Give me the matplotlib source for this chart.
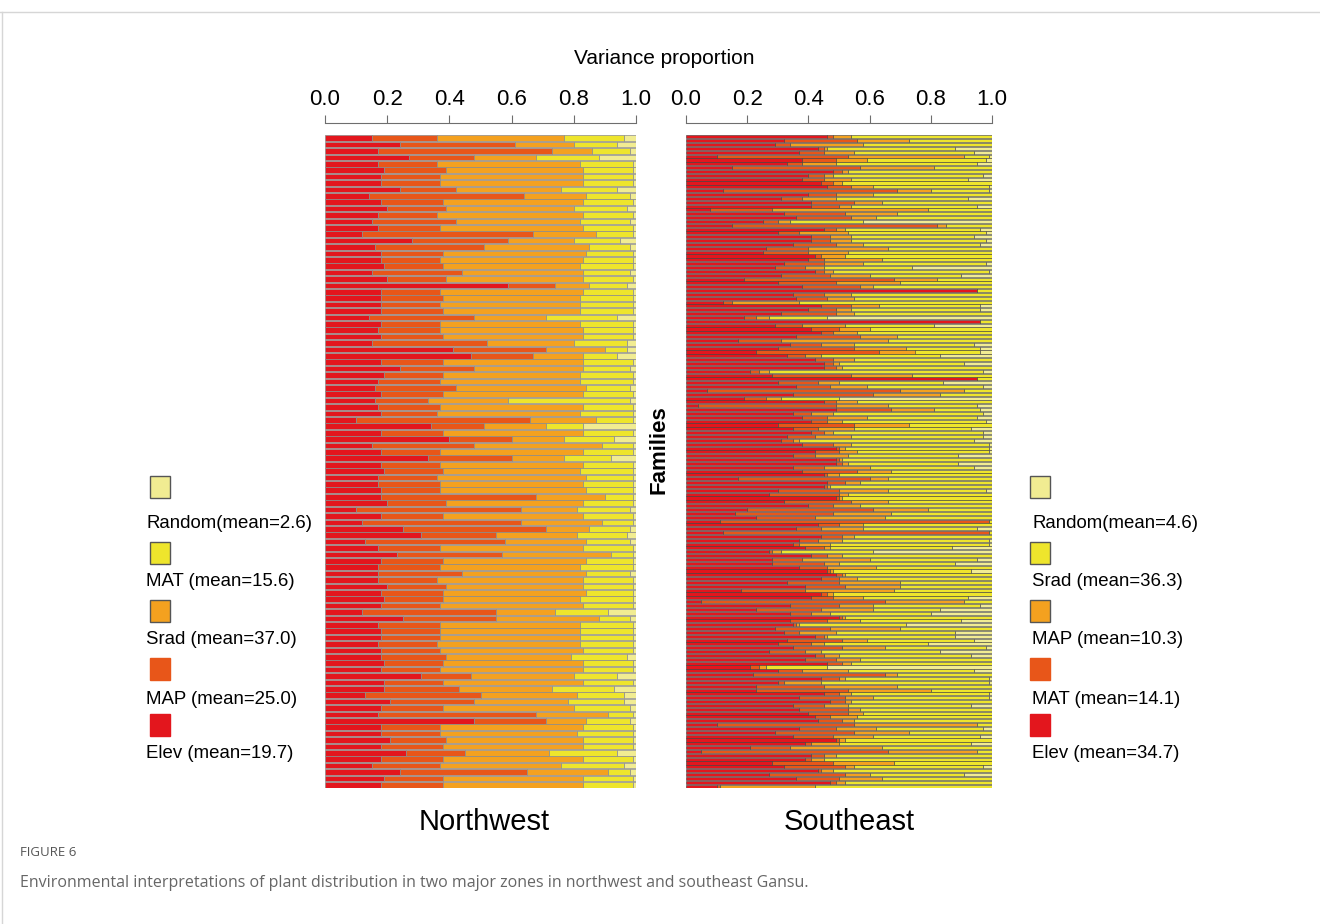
import numpy as np
import matplotlib
matplotlib.use("Agg")
import matplotlib.pyplot as plt
from matplotlib.patches import Rectangle
from matplotlib.lines import Line2D

plt.rcParams["font.family"] = ["Liberation Sans", "DejaVu Sans"]

# colours by stacking position (left segment first)
STACK_COLORS = ["#e3161d", "#e85619", "#f4a11f", "#eee52c", "#f1ec92"]

# ---- Northwest: Elev, MAP, Srad, MAT, Random (102 families, top to bottom)
nw_elev = [.15, .24, .17, .27, .17, .19, .18, .18, .24, .14,
           .18, .20, .17, .15, .17, .12, .28, .16, .18, .18,
           .19, .15, .20, .59, .18, .18, .18, .18, .14, .18,
           .17, .18, .15, .41, .47, .18, .24, .19, .17, .16,
           .18, .16, .17, .18, .10, .34, .18, .40, .15, .18,
           .33, .18, .19, .17, .17, .18, .18, .20, .10, .18,
           .12, .25, .31, .13, .17, .23, .18, .17, .17, .17,
           .20, .18, .19, .18, .12, .25, .17, .18, .18, .17,
           .18, .18, .19, .18, .31, .19, .19, .13, .21, .18,
           .17, .48, .18, .18, .21, .18, .26, .18, .15, .24,
           .19, .18]
nw_map = [.21, .37, .56, .21, .19, .20, .19, .19, .18, .50,
          .20, .19, .19, .27, .20, .55, .31, .35, .20, .19,
          .19, .29, .19, .15, .19, .20, .19, .20, .34, .19,
          .20, .20, .37, .30, .20, .20, .24, .19, .20, .26,
          .20, .17, .20, .18, .56, .17, .20, .20, .33, .19,
          .27, .19, .19, .19, .20, .19, .50, .19, .53, .20,
          .51, .46, .24, .45, .20, .34, .20, .20, .27, .19,
          .19, .20, .19, .19, .43, .30, .20, .19, .19, .19,
          .19, .21, .19, .19, .16, .19, .24, .37, .27, .20,
          .51, .23, .19, .19, .18, .20, .19, .20, .22, .41,
          .19, .20]
nw_srad = [.41, .19, .13, .20, .46, .44, .46, .46, .34, .20,
           .45, .41, .47, .40, .46, .20, .21, .34, .46, .46,
           .44, .39, .44, .11, .46, .44, .45, .44, .23, .45,
           .46, .45, .28, .19, .16, .45, .35, .44, .45, .42,
           .45, .26, .46, .46, .21, .20, .45, .17, .41, .46,
           .17, .46, .44, .48, .46, .47, .22, .44, .18, .45,
           .26, .14, .26, .26, .46, .35, .46, .45, .40, .47,
           .44, .46, .44, .46, .19, .33, .45, .45, .45, .46,
           .46, .40, .45, .46, .33, .45, .30, .31, .30, .42,
           .23, .13, .46, .44, .44, .45, .27, .45, .39, .26,
           .45, .45]
nw_mat = [.19, .14, .12, .20, .17, .16, .16, .16, .18, .14,
          .16, .17, .16, .16, .16, .12, .15, .13, .15, .16,
          .17, .15, .16, .12, .16, .17, .17, .17, .23, .17,
          .16, .16, .17, .07, .11, .16, .15, .17, .17, .14,
          .16, .39, .16, .17, .12, .12, .16, .16, .10, .16,
          .15, .16, .17, .15, .16, .15, .09, .16, .17, .16,
          .10, .13, .16, .14, .16, .07, .15, .17, .14, .16,
          .16, .15, .17, .16, .17, .10, .17, .17, .17, .17,
          .16, .18, .16, .16, .14, .16, .20, .15, .18, .18,
          .08, .14, .16, .18, .16, .16, .22, .16, .20, .07,
          .16, .16]
nw_random = [.04, .06, .02, .12, .01, .01, .01, .01, .06, .02,
             .01, .03, .01, .02, .01, .01, .05, .02, .01, .01,
             .01, .02, .01, .03, .01, .01, .01, .01, .06, .01,
             .01, .01, .03, .03, .06, .01, .02, .01, .01, .02,
             .01, .02, .01, .01, .01, .17, .01, .07, .01, .01,
             .08, .01, .01, .01, .01, .01, .01, .01, .02, .01,
             .01, .02, .03, .02, .01, .01, .01, .01, .02, .01,
             .01, .01, .01, .01, .09, .02, .01, .01, .01, .01,
             .01, .03, .01, .01, .06, .01, .07, .04, .04, .02,
             .01, .02, .01, .01, .01, .01, .06, .01, .04, .02,
             .01, .01]
nw_legend = ["Random(mean=2.6)", "MAT (mean=15.6)", "Srad (mean=37.0)",
             "MAP (mean=25.0)", "Elev (mean=19.7)"]

# ---- Southeast: Elev, MAT, MAP, Srad, Random (170 families, top to bottom)
se_elev = [.46, .32, .29, .43, .37, .10, .38, .33, .15, .48,
           .40, .38, .44, .46, .12, .40, .31, .41, .41, .08,
           .32, .36, .25, .15, .45, .30, .41, .41, .35, .26,
           .25, .42, .40, .32, .29, .42, .31, .19, .30, .38,
           .95, .35, .36, .12, .44, .40, .31, .19, .96, .29,
           .41, .44, .36, .17, .34, .30, .23, .33, .42, .45,
           .45, .21, .28, .95, .30, .36, .07, .35, .19, .45,
           .04, .49, .35, .38, .41, .30, .35, .41, .33, .31,
           .38, .49, .42, .35, .49, .49, .35, .38, .45, .17,
           .46, .45, .30, .27, .49, .32, .40, .20, .16, .23,
           .11, .43, .36, .12, .44, .37, .35, .39, .27, .41,
           .28, .28, .37, .46, .49, .44, .33, .39, .18, .44,
           .41, .05, .34, .23, .34, .50, .34, .35, .29, .32,
           .42, .33, .30, .35, .27, .42, .39, .46, .21, .30,
           .22, .44, .30, .23, .23, .45, .37, .47, .35, .37,
           .40, .42, .43, .10, .37, .29, .35, .49, .39, .21,
           .05, .41, .39, .28, .32, .43, .27, .36, .47, .10]
se_mat = [.02, .24, .05, .02, .08, .43, .11, .05, .42, .03,
          .05, .07, .04, .08, .57, .09, .07, .14, .09, .20,
          .20, .18, .05, .67, .04, .07, .06, .06, .14, .14,
          .15, .02, .05, .13, .10, .03, .16, .49, .19, .19,
          .00, .10, .10, .03, .10, .09, .18, .04, .00, .09,
          .09, .04, .21, .14, .10, .25, .40, .06, .06, .03,
          .04, .03, .26, .00, .13, .11, .63, .26, .07, .04,
          .45, .18, .06, .08, .05, .25, .08, .04, .09, .04,
          .10, .01, .08, .07, .01, .02, .10, .18, .01, .43,
          .06, .01, .20, .23, .01, .22, .08, .41, .32, .19,
          .88, .07, .08, .87, .07, .06, .02, .06, .01, .05,
          .10, .17, .09, .01, .02, .06, .17, .13, .21, .02,
          .07, .60, .16, .21, .07, .01, .12, .01, .18, .05,
          .03, .18, .11, .16, .12, .03, .10, .05, .03, .08,
          .43, .06, .02, .22, .30, .05, .15, .05, .10, .16,
          .13, .05, .08, .45, .12, .26, .13, .01, .02, .13,
          .61, .04, .02, .20, .20, .01, .25, .14, .02, .01]
se_map = [.06, .17, .24, .01, .10, .38, .10, .11, .24, .02,
          .03, .09, .03, .07, .11, .12, .11, .09, .04, .51,
          .17, .08, .04, .03, .03, .16, .07, .07, .09, .26,
          .13, .08, .19, .13, .06, .03, .13, .14, .21, .04,
          .00, .09, .09, .22, .09, .05, .06, .04, .00, .14,
          .10, .08, .12, .35, .11, .17, .12, .05, .07, .02,
          .02, .03, .20, .00, .07, .12, .21, .22, .05, .07,
          .17, .14, .07, .13, .05, .18, .12, .03, .12, .02,
          .06, .02, .06, .11, .01, .02, .15, .11, .04, .06,
          .05, .01, .16, .03, .01, .12, .09, .18, .19, .23,
          .00, .08, .14, .00, .04, .08, .10, .02, .03, .05,
          .22, .05, .16, .01, .01, .06, .20, .18, .29, .02,
          .10, .26, .11, .17, .06, .01, .11, .01, .23, .12,
          .01, .08, .04, .14, .05, .05, .08, .03, .02, .15,
          .04, .02, .12, .24, .27, .04, .09, .02, .08, .04,
          .05, .09, .04, .40, .13, .18, .13, .02, .09, .30,
          .29, .04, .04, .20, .03, .04, .08, .14, .03, .31]
se_srad = [.46, .27, .42, .42, .39, .08, .39, .46, .19, .47,
           .49, .38, .49, .38, .19, .39, .43, .36, .41, .21,
           .31, .38, .24, .15, .44, .45, .40, .44, .38, .34,
           .47, .48, .36, .40, .29, .51, .30, .18, .30, .39,
           .05, .46, .45, .63, .33, .42, .45, .19, .04, .29,
           .40, .44, .31, .34, .39, .24, .21, .39, .45, .41,
           .49, .70, .26, .05, .34, .38, .09, .17, .19, .44,
           .29, .15, .49, .36, .47, .27, .38, .49, .43, .57,
           .45, .47, .43, .36, .49, .36, .34, .33, .50, .34,
           .43, .53, .32, .47, .49, .34, .43, .21, .33, .35,
           .01, .42, .37, .01, .45, .48, .52, .40, .30, .49,
           .35, .38, .38, .45, .48, .44, .30, .30, .32, .52,
           .34, .09, .35, .22, .33, .48, .33, .35, .30, .39,
           .42, .35, .34, .33, .39, .43, .43, .46, .20, .41,
           .31, .47, .55, .31, .20, .45, .38, .46, .40, .43,
           .42, .44, .45, .05, .35, .27, .35, .48, .43, .36,
           .05, .51, .55, .32, .42, .52, .31, .36, .48, .58]
se_random = [0, 0, 0, .12, .06, .01, .02, .05, 0, 0,
             .03, .08, 0, .01, .01, 0, .08, 0, .05, 0,
             0, 0, .42, 0, .04, .02, .06, .02, .04, 0,
             0, 0, 0, .02, .26, .01, .10, 0, 0, 0,
             0, 0, 0, 0, .04, .04, 0, .54, 0, .19,
             0, 0, 0, 0, .06, .04, .04, .17, 0, .09,
             0, .03, 0, 0, .16, .03, 0, 0, .50, 0,
             .05, .04, .03, .05, .02, 0, .07, .03, .03, .06,
             .01, .01, .01, .11, 0, .11, .06, 0, 0, 0,
             0, 0, .02, 0, 0, 0, 0, 0, 0, 0,
             0, 0, .05, 0, 0, .01, .01, .13, .39, 0,
             .05, .12, 0, .07, 0, 0, 0, 0, 0, 0,
             .08, 0, .04, .17, .20, 0, .10, .28, 0, .12,
             .12, .06, .21, .02, .17, .07, 0, 0, .54, .06,
             0, .01, .01, 0, 0, .01, .01, 0, .07, 0,
             0, 0, 0, 0, .03, 0, .04, 0, .07, 0,
             0, 0, 0, 0, .03, 0, .09, 0, 0, 0]
se_legend = ["Random(mean=4.6)", "Srad (mean=36.3)", "MAP (mean=10.3)",
             "MAT (mean=14.1)", "Elev (mean=34.7)"]

ticks = [0.0, 0.2, 0.4, 0.6, 0.8, 1.0]

W, H = 1320, 924


def fx(px):
    return px / W


def fy(py):
    return 1 - py / H


def draw_panel(ax, series, edge, lw, height):
    n = len(series[0])
    y = np.arange(n)
    left = np.zeros(n)
    for vals, col in zip(series, STACK_COLORS):
        v = np.asarray(vals, dtype=float)
        bars = ax.barh(y, v, left=left, height=height, color=col,
                       edgecolor=edge, linewidth=lw)
        for b in bars:
            b.set_snap(True)
        left = left + v
    ax.set_xlim(0, 1)
    ax.set_ylim(n - 0.5, -0.5)
    ax.set_yticks([])
    for s in ("left", "right", "bottom"):
        ax.spines[s].set_visible(False)
    ax.spines["top"].set_position(("outward", 9))
    ax.spines["top"].set_color("#6e6e6e")
    ax.spines["top"].set_linewidth(0.8)
    ax.xaxis.set_ticks_position("top")
    ax.set_xticks(ticks)
    ax.set_xticklabels([f"{t:.1f}" for t in ticks])
    ax.tick_params(axis="x", direction="out", length=6, width=0.8,
                   color="#6e6e6e", labelsize=16, pad=3)


fig = plt.figure(figsize=(13.2, 9.24), dpi=100)

ax_nw = fig.add_axes([fx(325), fy(788), fx(311), 653 / H])
draw_panel(ax_nw, [nw_elev, nw_map, nw_srad, nw_mat, nw_random],
           edge="#8a8a8a", lw=0.5, height=0.88)

ax_se = fig.add_axes([fx(686), fy(788), fx(306), 653 / H])
draw_panel(ax_se, [se_elev, se_mat, se_map, se_srad, se_random],
           edge="#3a3a3a", lw=0.4, height=0.8)

# legends, drawn as boxes with labels below them
legend_colors = STACK_COLORS[::-1]
box_tops = [476, 542, 600, 658, 714]
label_ys = [523, 581, 639, 700, 754]
for labels, box_x, text_x in [(nw_legend, 150, 146), (se_legend, 1030, 1032)]:
    for i, (lab, col) in enumerate(zip(labels, legend_colors)):
        ec = "#555555" if i < 3 else col
        fig.patches.append(Rectangle((fx(box_x), fy(box_tops[i] + 22)),
                                     fx(20), 22 / H, facecolor=col,
                                     edgecolor=ec, linewidth=1.0,
                                     transform=fig.transFigure))
        fig.text(fx(text_x), fy(label_ys[i]), lab, fontsize=13.4,
                 ha="left", va="center")

fig.text(fx(664), fy(58), "Variance proportion", fontsize=15,
         ha="center", va="center")
fig.text(fx(659), fy(450), "Families", fontsize=16, fontweight="bold",
         rotation=90, ha="center", va="center")
fig.text(fx(484), fy(822), "Northwest", fontsize=21, ha="center", va="center")
fig.text(fx(849), fy(822), "Southeast", fontsize=21, ha="center", va="center")

# caption block
fig.text(fx(20), fy(853), "FIGURE 6", fontsize=9.5, color="#555555",
         ha="left", va="center", family=["Open Sans", "DejaVu Sans"])
fig.text(fx(20), fy(883),
         "Environmental interpretations of plant distribution in two major "
         "zones in northwest and southeast Gansu.",
         fontsize=11.5, color="#666666", ha="left", va="center",
         family=["Open Sans", "DejaVu Sans"])

# page frame lines
fig.lines.append(Line2D([0, 1], [fy(12), fy(12)], color="#d6d6d6",
                        linewidth=1, transform=fig.transFigure))
fig.lines.append(Line2D([fx(2), fx(2)], [fy(12), 0], color="#d6d6d6",
                        linewidth=1, transform=fig.transFigure))

fig.savefig("out.png", dpi=100)
